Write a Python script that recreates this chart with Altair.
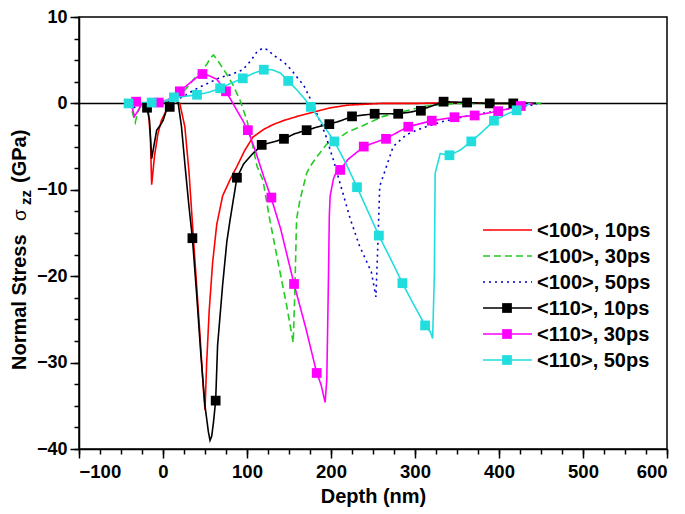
import altair as alt
import pandas as pd

# ---------------- data ----------------
labels = ["<100>, 10ps", "<100>, 30ps", "<100>, 50ps",
          "<110>, 10ps", "<110>, 30ps", "<110>, 50ps"]
colors = ["#ff0000", "#22cc22", "#0000cc", "#000000", "#ff00ff", "#22dddd"]
dashes = [[1, 0], [7, 4], [2, 4], [1, 0], [1, 0], [1, 0]]

red_x = [-25, -18, -15, -13.5, -10, -6, -2, 3, 8, 14, 20, 26, 31, 36, 40, 44, 48, 50,
         52, 55, 59, 64, 71, 80, 88, 97, 107, 120, 130, 143, 160, 183, 200, 220, 260,
         300, 350, 400, 440]
red_y = [0, -0.3, -4, -9.4, -6, -3.5, -2, -1, -0.2, 0.3, 0, -2.7, -8, -15.3, -21, -26.8,
         -33, -35.5, -30, -24, -18.5, -14, -10.7, -8.8, -7.3, -5.5, -3.9, -3, -2.5, -2.0,
         -1.5, -0.9, -0.5, -0.2, 0, 0, 0.1, 0, 0]

green_x = [-45, -38, -33, -30, -25, -15, 0, 10, 22, 30, 40, 52, 56, 60, 65, 71, 77, 83,
           92, 100, 106, 112, 119, 127, 137, 147, 152, 155, 157, 159, 163, 171, 175, 183,
           195, 211, 220, 235, 262, 290, 314, 350, 400, 452]
green_y = [0, -0.5, -2.2, -1, 0, 0, 0.1, 0.3, 1.1, 2, 3.2, 4.5, 5.2, 5.6, 5, 4.1, 3.2, 2.2,
           0.3, -2, -4.5, -7.3, -8.9, -13.4, -18.4, -23.3, -26, -27.7, -21.8, -13.4, -11.2,
           -8.1, -7.3, -6.2, -4.7, -3.9, -3.3, -2.7, -1.5, -0.85, -0.3, 0, 0, 0]

blue_x = [-40, -35, -25, -10, 0, 10, 20, 28, 36, 44, 55, 68, 80, 95, 105, 112, 119, 125,
          131, 139, 147, 155, 163, 167, 179, 193, 203, 213, 223, 234, 248, 253.5, 256,
          258, 266, 274, 290, 310, 333, 360, 390, 420, 445]
blue_y = [0, -0.5, 0, 0, 0.1, 0.3, 0.6, 1, 1.5, 1.9, 2.4, 3, 3.3, 3.9, 5, 6, 6.4, 6.2,
          5.6, 5.1, 4.5, 3.6, 2.6, 2.2, -0.2, -3.5, -6.6, -10, -13.4, -16.5, -19.5, -22.4,
          -15.7, -9.6, -7.3, -5, -3.6, -2.8, -2.1, -1.5, -1.0, -0.5, -0.1]

black_x = [-24, -19, -16, -13.5, -11, -7.5, -3, 0, 4, 8, 13, 18, 22, 27, 31, 35, 40, 45,
           50, 54, 56, 58, 60, 62.7, 65, 71, 76, 80, 88, 96, 107, 118, 130, 144, 157, 171,
           185, 198, 212, 225, 252, 280, 295, 310, 326, 334, 362, 389, 417, 444]
black_y = [-0.3, -0.5, -2, -6.4, -5, -3.1, -2.5, -2, -0.8, -0.4, 0.4, 0.1, -2.7, -8, -12,
           -15.6, -22, -29, -35, -38, -39, -38.5, -37, -34.4, -28, -21, -16, -13.4, -8.6,
           -7, -5.8, -4.8, -4.5, -4.1, -3.5, -3.1, -2.7, -2.4, -2, -1.5, -1.2, -1.2, -1.0,
           -0.65, -0.1, 0.2, 0.1, 0, 0, 0]
black_mx = [-19, 8, 35, 62.7, 88, 117.5, 144, 171, 198, 225, 252, 280, 307, 334, 362, 389, 417]
black_my = [-0.5, -0.4, -15.6, -34.4, -8.6, -4.8, -4.1, -3.1, -2.4, -1.5, -1.2, -1.2,
            -0.85, 0.2, 0.1, 0, 0]

mag_x = [-45, -38, -34, -30, -25, -15, -5, 5, 12, 20, 30, 40, 47, 55, 64, 70, 75, 85, 95,
         101, 110, 120, 129, 140, 156, 170, 183, 188, 193, 195, 197, 198, 199, 203, 207,
         211, 220, 239, 250, 265, 280, 292, 320, 347, 371, 399, 426, 440]
mag_y = [0, 0, -1.5, -0.9, 0, 0.1, 0.1, 0.4, 0.8, 1.4, 2.2, 3.0, 3.4, 3.2, 2.8, 2.0, 1.4,
         -0.3, -2, -3.1, -5.5, -8.5, -11, -14.5, -20.9, -26, -31.2, -32.5, -34.6, -32, -20,
         -13, -10.7, -8.7, -7.8, -7.7, -6.5, -5, -4.6, -4.1, -3.3, -2.7, -2, -1.6, -1.4,
         -0.9, -0.3, 0]
mag_mx = [-32, -5, 20, 47, 75, 101, 129, 156, 183, 211, 239, 265.5, 292, 320, 347, 371, 399, 426]
mag_my = [0.2, 0.1, 1.4, 3.4, 1.4, -3.1, -10.9, -20.9, -31.2, -7.7, -5, -4.1, -2.7, -2,
          -1.6, -1.4, -0.9, -0.3]

cyan_x = [-45, -41, -35, -25, -13.5, 0, 13, 25, 40.5, 55, 68, 80, 95, 108, 120, 130, 140,
          149, 160, 168, 176, 190, 204, 218, 231, 244, 257, 271, 285, 298, 312, 318, 321,
          323, 324, 330, 341, 354, 367, 380, 394, 410, 421, 437]
cyan_y = [0, 0, -0.2, 0.1, 0.1, 0.2, 0.7, 0.8, 1, 1.3, 1.75, 2.3, 2.9, 3.5, 3.9, 3.9, 3.5,
          2.6, 1.5, 0.6, -0.4, -2.4, -4.4, -7, -9.7, -12.5, -15.3, -18, -20.8, -23.2,
          -25.7, -26.4, -27.2, -20, -8.1, -5.8, -6, -5.4, -4.4, -3.3, -2, -1.2, -0.8, 0]
cyan_mx = [-41, -13.5, 13, 40.5, 68, 95, 120, 149, 176, 204, 231, 257, 285, 312, 341, 367, 394, 421]
cyan_my = [0, 0.1, 0.7, 1, 1.75, 2.9, 3.9, 2.6, -0.4, -4.4, -9.7, -15.3, -20.8, -25.7,
           -6, -4.4, -2, -0.8]

x_major = [-100, 0, 100, 200, 300, 400, 500, 600]
x_minor = [v * 25 for v in range(-4, 25)]
y_major = [-40, -30, -20, -10, 0, 10]
y_minor = [v * 2.5 for v in range(-16, 5)]

# ---------------- tables ----------------
line_sets = [(labels[0], red_x, red_y), (labels[1], green_x, green_y),
             (labels[2], blue_x, blue_y), (labels[3], black_x, black_y),
             (labels[4], mag_x, mag_y), (labels[5], cyan_x, cyan_y)]
rows = []
for name, xs, ys in line_sets:
    for k, (a, b) in enumerate(zip(xs, ys)):
        rows.append({"series": name, "x": a, "y": b, "i": k})
lines_df = pd.DataFrame(rows)

mrows = []
for name, xs, ys in [(labels[3], black_mx, black_my), (labels[4], mag_mx, mag_my),
                     (labels[5], cyan_mx, cyan_my)]:
    for a, b in zip(xs, ys):
        mrows.append({"series": name, "x": a, "y": b})
marks_df = pd.DataFrame(mrows)

FONT = "Liberation Sans"
xs_ = alt.Scale(domain=[-100, 600], nice=False, zero=False)
ys_ = alt.Scale(domain=[-40, 10], nice=False, zero=False)
cscale = alt.Scale(domain=labels, range=colors)
dscale = alt.Scale(domain=labels, range=dashes)

x_axis_major = alt.Axis(values=x_major, title="Depth (nm)", orient="bottom", grid=False,
                        tickSize=9, tickWidth=1.5, tickColor="black", domainColor="black",
                        domainWidth=1.5, labelFont=FONT, labelFontSize=18.5,
                        labelFontWeight="bold", labelColor="black", labelPadding=4,
                        titleFont=FONT, titleFontSize=20, titleFontWeight="bold",
                        titleColor="black", titlePadding=6, format="d")
y_axis_major = alt.Axis(values=y_major, title=None, orient="left", grid=False,
                        tickSize=9, tickWidth=1.5, tickColor="black", domainColor="black",
                        domainWidth=1.5, labelFont=FONT, labelFontSize=18,
                        labelFontWeight="bold", labelColor="black", labelPadding=3,
                        format="d")
x_axis_minor = alt.Axis(values=x_minor, title=None, orient="bottom", grid=False, labels=False,
                        tickSize=5, tickWidth=1.5, tickColor="black", domain=False)
y_axis_minor = alt.Axis(values=y_minor, title=None, orient="left", grid=False, labels=False,
                        tickSize=5, tickWidth=1.5, tickColor="black", domain=False)

minor = alt.Chart(pd.DataFrame({"x": [0], "y": [0]})).mark_point(opacity=0).encode(
    x=alt.X("x:Q", scale=xs_, axis=x_axis_minor),
    y=alt.Y("y:Q", scale=ys_, axis=y_axis_minor))

zero = alt.Chart(pd.DataFrame({"y": [0]})).mark_rule(color="black", strokeWidth=1.5).encode(
    y=alt.Y("y:Q", scale=ys_, axis=None))

lines = alt.Chart(lines_df).mark_line(strokeWidth=1.6, clip=True).encode(
    x=alt.X("x:Q", scale=xs_, axis=x_axis_major),
    y=alt.Y("y:Q", scale=ys_, axis=y_axis_major),
    color=alt.Color("series:N", scale=cscale, legend=None),
    strokeDash=alt.StrokeDash("series:N", scale=dscale, legend=None),
    detail="series:N",
    order="i:Q")

squares = alt.Chart(marks_df).mark_square(size=95, opacity=1, filled=True).encode(
    x=alt.X("x:Q", scale=xs_, axis=None),
    y=alt.Y("y:Q", scale=ys_, axis=None),
    color=alt.Color("series:N", scale=cscale, legend=None))

one = pd.DataFrame({"a": [0]})
layers = [minor, zero, lines, squares]

# legend (pixel layout)
for k, name in enumerate(labels):
    ly = 213 + 26 * k
    layers.append(alt.Chart(one).mark_rule(color=colors[k], strokeWidth=1.6,
                                           strokeDash=dashes[k]).encode(
        x=alt.value(404), x2=alt.value(453), y=alt.value(ly)))
    if k >= 3:
        layers.append(alt.Chart(one).mark_square(size=95, color=colors[k], opacity=1).encode(
            x=alt.value(428), y=alt.value(ly)))
    layers.append(alt.Chart(one).mark_text(text=name, align="left", baseline="middle",
                                           font=FONT, fontSize=20, fontWeight="bold",
                                           color="black").encode(
        x=alt.value(458), y=alt.value(ly + 1)))

# y-axis title with subscript
ttl = [("Normal Stress", -53, 353, 20, "bold"),
       ("\u03c3", -53, 204, 19, "normal"),
       ("zz", -48, 188, 15, "bold"),
       ("(GPa)", -53, 166, 20, "bold")]
for txt, tx, ty, fs, fw in ttl:
    layers.append(alt.Chart(one).mark_text(text=txt, align="left", baseline="alphabetic",
                                           angle=270, font=FONT, fontSize=fs,
                                           fontWeight=fw, color="black").encode(
        x=alt.value(tx), y=alt.value(ty)))

chart = alt.layer(*layers).resolve_axis(x="independent", y="independent").properties(
    width=588, height=432,
    autosize=alt.AutoSizeParams(type="none"),
    padding={"left": 71, "top": 9, "right": 10, "bottom": 64},
).configure_view(stroke="black", strokeWidth=1.5)

chart.save("out.html", embed_options={"renderer": "svg", "actions": False})
